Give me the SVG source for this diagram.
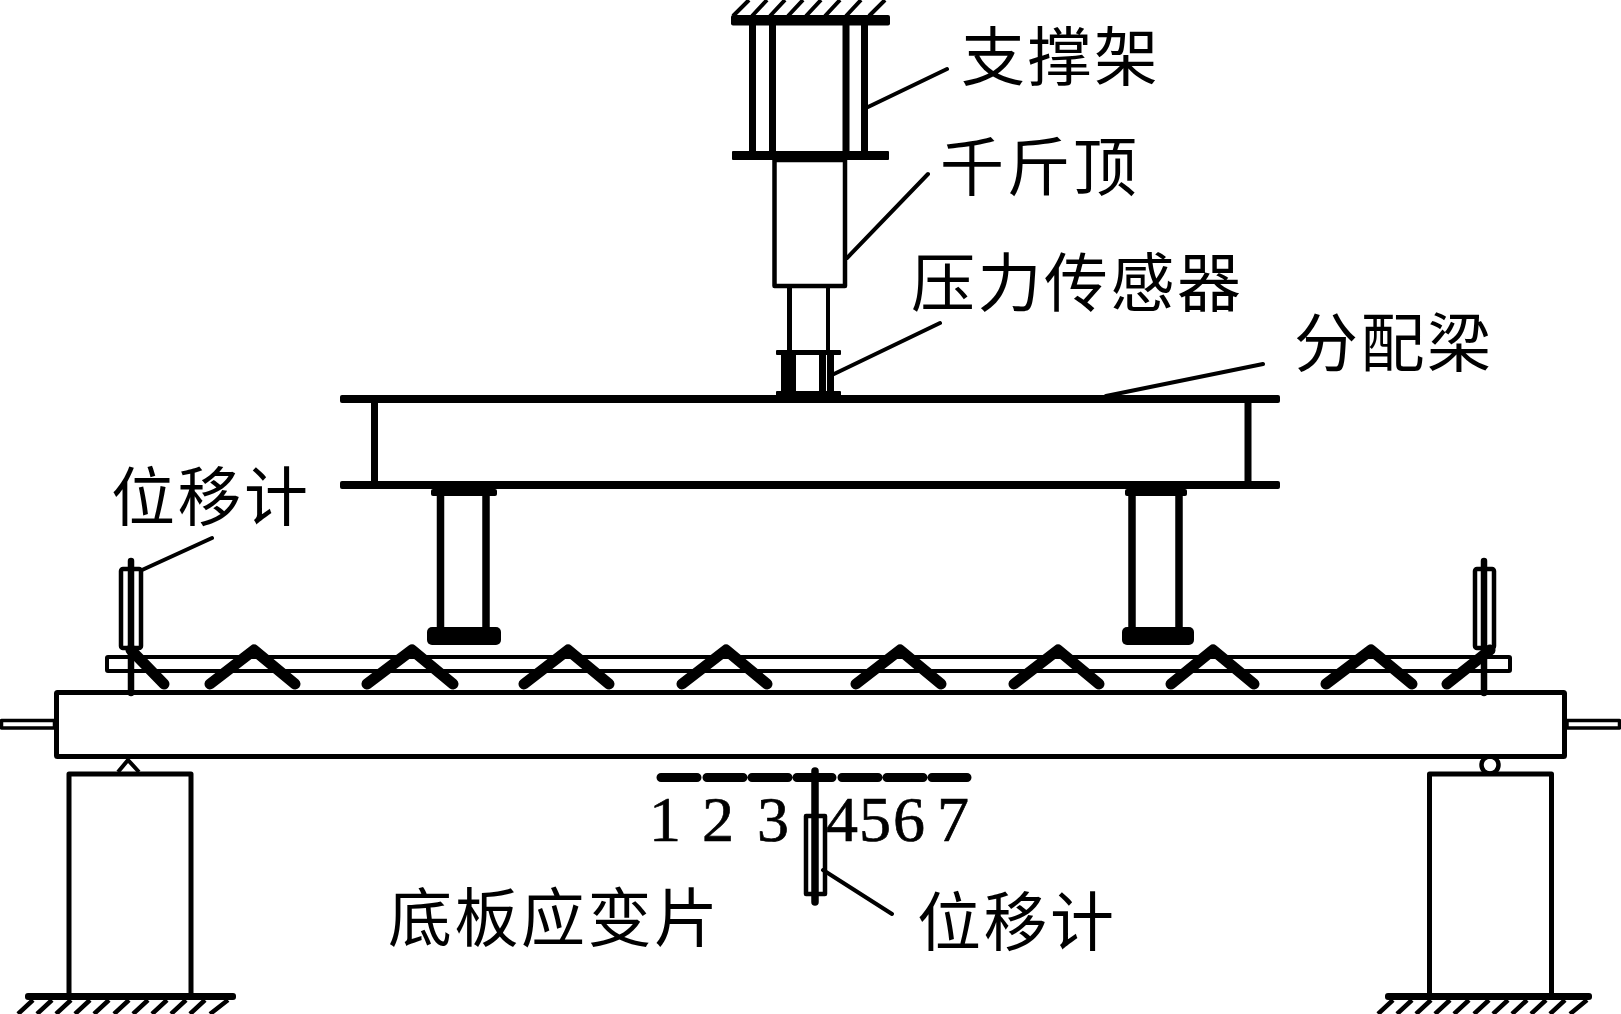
<svg xmlns="http://www.w3.org/2000/svg" width="1621" height="1014" viewBox="0 0 1621 1014">
<style>
.l{fill:none;stroke:#000;stroke-linecap:round;stroke-linejoin:round}
.b{fill:none;stroke:#000;stroke-linecap:butt}
.o{fill:none;stroke:#000;stroke-linejoin:round}
.k{fill:#000}
.t{font-family:"Noto Sans CJK SC",sans-serif;font-size:64px;letter-spacing:2.500px;fill:#000}
.n{font-family:"Liberation Serif",serif;font-size:64px;text-anchor:middle;fill:#000;stroke:#000;stroke-width:.7px}
</style>
<rect width="1621" height="1014" fill="#fff"/>
<g id="support-frame">
<path class="b" stroke-width="4" d="M733 16L749 0M752 16L767 0M770 16L785 0M788 16L803 0M806 16L821 0M825 16L840 0M846 16L861 0M869 16L885 0"/>
<rect class="k" x="731" y="15" width="159" height="10.500" rx="2"/>
<path class="b" stroke-width="7" d="M752.500 25V152M772.500 25V152M846 25V152M864.500 25V152"/>
<rect class="k" x="732" y="151" width="157" height="9" rx="1"/>
</g>
<g id="jack">
<rect class="o" stroke-width="4.500" x="774.500" y="160" width="70.500" height="126"/>
<path class="b" stroke-width="5" d="M789.500 288V351"/>
<path class="b" stroke-width="4" d="M828 288V351"/>
</g>
<g id="load-cell">
<rect class="k" x="776" y="350" width="65" height="5" rx="1"/>
<rect class="k" x="781" y="354" width="15" height="38"/>
<rect class="k" x="819" y="354" width="7" height="38"/>
<rect class="k" x="827" y="354" width="7" height="38"/>
<rect class="k" x="776" y="391" width="65" height="5" rx="1"/>
</g>
<g id="spreader-beam">
<rect class="k" x="340" y="395" width="940" height="8" rx="2"/>
<rect class="k" x="340" y="481" width="940" height="8" rx="2"/>
<path class="b" stroke-width="7" d="M374.500 403V481M1248 403V481"/>
</g>
<g id="pedestal-left">
<rect class="k" x="431" y="489" width="66" height="7" rx="2"/>
<path class="b" stroke-width="7.500" d="M440.500 496V627M486 496V627"/>
<rect class="k" x="427" y="627" width="74" height="18" rx="5"/>
</g>
<g id="pedestal-right">
<rect class="k" x="1125" y="489" width="62" height="7" rx="2"/>
<path class="b" stroke-width="7.500" d="M1132 496V627M1179 496V627"/>
<rect class="k" x="1122" y="627" width="72" height="18" rx="5"/>
</g>
<g id="test-beam">
<rect class="o" stroke-width="4" x="107" y="657" width="1403" height="14" rx="1"/>
<path class="l" stroke-width="11" d="M131 650L164 684M210 684L254 650L295 684M367 684L412 650L453 684M524 684L568 650L609 684M682 684L726 650L767 684M856 684L900 650L941 684M1014 684L1058 650L1099 684M1171 684L1213 650L1254 684M1326 684L1371 650L1412 684M1447 684L1490 650"/>
<rect class="o" stroke-width="5" x="56.500" y="692.500" width="1508" height="64" rx="1"/>
<rect class="o" stroke-width="3.500" x="1.500" y="720.500" width="53" height="7.500"/>
<rect class="o" stroke-width="3.500" x="1567" y="720.500" width="52.500" height="7.500"/>
</g>
<g id="gauge-left">
<rect class="o" stroke-width="4.500" x="121" y="569" width="20" height="79" rx="2"/>
<path class="l" stroke-width="6.500" d="M131 561V693"/>
</g>
<g id="gauge-right">
<rect class="o" stroke-width="4.500" x="1475" y="569" width="19" height="79" rx="2"/>
<path class="l" stroke-width="6.500" d="M1484 561V693"/>
</g>
<g id="gauge-bottom">
<rect class="o" stroke-width="4.500" x="806" y="816" width="19" height="78"/>
<path class="l" stroke-width="7.500" d="M815 771V902"/>
</g>
<g id="strain-gauges">
<path class="l" stroke-width="9" d="M661 777.500H697M707 777.500H743M752 777.500H788M797 777.500H832M842 777.500H878M887 777.500H923M932 777.500H967"/>
</g>
<g id="support-left">
<path class="o" stroke-width="4" d="M118 772L128 760L139 772"/>
<rect class="o" stroke-width="5" x="69" y="774" width="122" height="222"/>
<path class="b" stroke-width="4.500" d="M18 1014L33 1000M37 1014L52 1000M56 1014L71 1000M75 1014L90 1000M94 1014L109 1000M114 1014L129 1000M133 1014L148 1000M152 1014L167 1000M171 1014L186 1000M190 1014L205 1000M210 1014L228 1000"/>
<rect class="k" x="25" y="993" width="211" height="7" rx="3"/>
</g>
<g id="support-right">
<circle class="o" stroke-width="4.500" cx="1490" cy="765" r="8.500"/>
<rect class="o" stroke-width="5" x="1429.500" y="774" width="122" height="222"/>
<path class="b" stroke-width="4.500" d="M1378 1014L1393 1000M1397 1014L1412 1000M1416 1014L1431 1000M1435 1014L1450 1000M1454 1014L1469 1000M1474 1014L1489 1000M1493 1014L1508 1000M1512 1014L1527 1000M1531 1014L1546 1000M1550 1014L1565 1000M1570 1014L1587 1000"/>
<rect class="k" x="1385" y="993" width="207" height="7" rx="3"/>
</g>
<g id="connectors">
<path class="l" stroke-width="4" d="M868 107L947 69M847 258L928 174M834 374L940 323M1106 396L1263 364M142 570L212 538M823 870L892 914"/>
</g>
<g id="labels">
<text class="t" x="961" y="80">支撑架</text>
<text class="t" x="940" y="190">千斤顶</text>
<text class="t" x="911" y="306">压力传感器</text>
<text class="t" x="1294" y="366">分配梁</text>
<text class="t" x="111" y="520">位移计</text>
<text class="t" x="917" y="945">位移计</text>
<text class="t" x="388" y="941">底板应变片</text>
<text class="n" x="665" y="841">1</text>
<text class="n" x="718" y="841">2</text>
<text class="n" x="773" y="841">3</text>
<text class="n" x="842" y="841">4</text>
<text class="n" x="875" y="841">5</text>
<text class="n" x="909" y="841">6</text>
<text class="n" x="953" y="841">7</text>
</g>
</svg>
